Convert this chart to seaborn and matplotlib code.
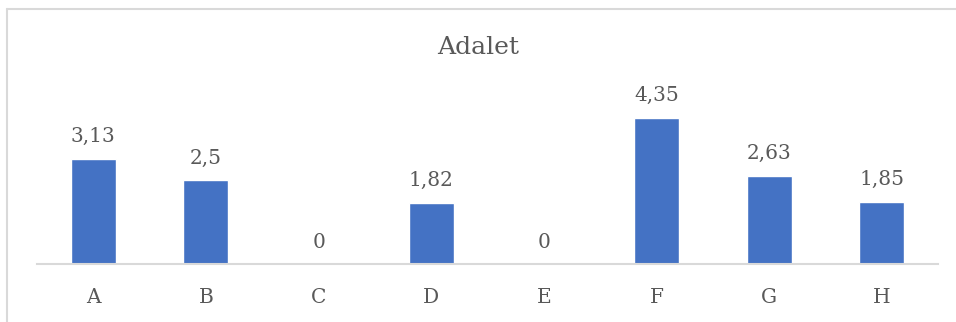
import matplotlib
matplotlib.use("Agg")
import matplotlib.pyplot as plt
from matplotlib.lines import Line2D
import seaborn as sns
import pandas as pd

categories = ["A", "B", "C", "D", "E", "F", "G", "H"]
values = [3.13, 2.5, 0, 1.82, 0, 4.35, 2.63, 1.85]
title = "Adalet"

sns.set_theme(style="white")
plt.rcParams["font.family"] = ["DejaVu Serif"]

text_color = "#595959"
bar_color = "#4472C4"

df = pd.DataFrame({"cat": categories, "val": values})

fig = plt.figure(figsize=(9.56, 3.22), dpi=100)
W, H = 956, 322
ax = fig.add_axes([37 / W, (H - 264) / H, (938 - 37) / W, 168 / H])

sns.barplot(data=df, x="cat", y="val", color=bar_color, width=0.4,
            saturation=1, ax=ax)
ax.set_ylim(0, 5)
ax.set_xlim(-0.5, len(categories) - 0.5)

for i, v in enumerate(values):
    label = f"{v:g}".replace(".", ",")
    ax.annotate(label, (i, v), xytext=(0, 9), textcoords="offset points",
                ha="center", va="bottom", fontsize=14.5, color=text_color)

ax.set_xlabel("")
ax.set_ylabel("")
ax.set_yticks([])
ax.tick_params(axis="x", length=0, labelsize=14.5, labelcolor=text_color, pad=17.5)
for s in ["top", "right", "left"]:
    ax.spines[s].set_visible(False)
ax.spines["bottom"].set_color("#D9D9D9")
ax.spines["bottom"].set_linewidth(1.5)

fig.text(0.5, (H - 47) / H, title, ha="center", va="center",
         fontsize=18, color=text_color)

# chart frame: left and top edges
x0 = 7 / W
y0 = (H - 8.5) / H
fig.add_artist(Line2D([x0, x0], [0, y0], transform=fig.transFigure,
                      color="#D9D9D9", linewidth=1.5))
fig.add_artist(Line2D([x0, 1], [y0, y0], transform=fig.transFigure,
                      color="#D9D9D9", linewidth=1.5))

fig.savefig("out.png", dpi=100)
